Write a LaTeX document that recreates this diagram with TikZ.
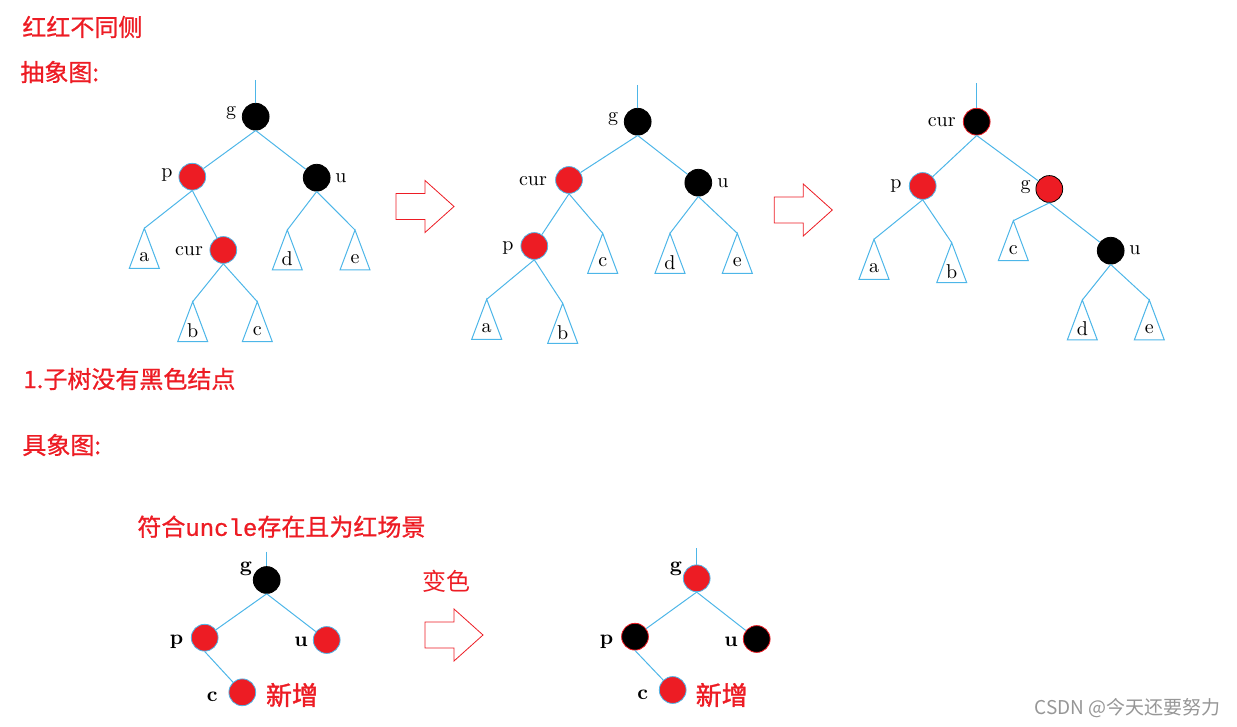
\documentclass[tikz,border=0pt]{standalone}
\usepackage{fontspec}
\usetikzlibrary{calc}
\newfontfamily\cjk{Noto Sans CJK SC}
\newfontfamily\cjkmed[FakeBold=0.8]{Noto Sans CJK SC}
\newfontfamily\cjkbold[FakeBold=1.5]{Noto Sans CJK SC}
\newfontfamily\monofont[FakeBold=0.8]{Liberation Mono}
\definecolor{linkblue}{RGB}{77,182,232}
\definecolor{nodered}{RGB}{237,28,36}
\definecolor{markgray}{RGB}{150,150,150}
\tikzset{
  rbnode/.style={circle,minimum size=13.4pt,inner sep=0pt,line width=0.4pt},
  rednode/.style={rbnode,fill=nodered,draw=linkblue},
  blacknode/.style={rbnode,fill=black,draw=black},
  link/.style={draw=linkblue,line width=0.5pt},
  keylabel/.style={inner sep=0.5pt,font=\fontsize{10}{12}\selectfont},
  boldlabel/.style={inner sep=0.5pt,font=\fontsize{10.5}{12}\selectfont\bfseries},
  redtitle/.style={anchor=west,inner sep=0pt,text=nodered,font=\fontsize{12}{14}\selectfont\cjkmed},
  hollowarrow/.style={draw=nodered,line width=0.4pt,fill=white},
}
% subtree triangle hanging from an apex
\newcommand{\subtree}[3]{%
  \coordinate (#1) at #2;
  \draw[link] (#1) -- ++(-15,40) -- ++(30,0) -- cycle;
  \node[keylabel] (#1lab) at ($(#1)+(0,29)$) {#3};
}
% hollow block arrow, argument is its left middle point
\newcommand{\bigarrow}[1]{%
  \draw[hollowarrow] #1 ++(0,-13) -- ++(29,0) -- ++(0,-13) -- ++(29,26) -- ++(-29,26) -- ++(0,-13) -- ++(-29,0) -- cycle;
}
\begin{document}
\begin{tikzpicture}[x=0.5pt,y=0.5pt,yscale=-1,xscale=1]
\useasboundingbox (0,0) rectangle (1237,727);

% Text Node
\node[redtitle] (title) at (22,27) {红红不同侧};
% Text Node
\node[redtitle] (abstract) at (20,72) {抽象图:};

%%% tree 1
\node[blacknode] (g1) at (255.7,116.7) {};
\node[rednode] (p1) at (192.3,176.7) {};
\node[blacknode] (u1) at (316.7,177.7) {};
\node[rednode] (cur1) at (223.3,250) {};
\coordinate (top1) at (255.7,80);
\subtree{a1}{(144.3,228.3)}{a}
\subtree{b1}{(192.7,301.7)}{b}
\subtree{c1}{(257.3,301.7)}{c}
\subtree{d1}{(287.3,230)}{d}
\subtree{e1}{(355,230)}{e}
\draw[link] (top1) -- (g1);
\draw[link] (g1.south) -- (p1);
\draw[link] (g1.south) -- (u1);
\draw[link] (p1.south) -- (a1);
\draw[link] (p1.south) -- (cur1);
\draw[link] (cur1.south) -- (b1);
\draw[link] (cur1.south) -- (c1);
\draw[link] (u1.south) -- (d1);
\draw[link] (u1.south) -- (e1);
% Text Node
\node[keylabel] (g1lab) at (231,113) {g};
\node[keylabel] (p1lab) at (167,175) {p};
\node[keylabel] (u1lab) at (341,178) {u};
\node[keylabel] (cur1lab) at (189,251) {cur};

%Shape: Right Arrow
\bigarrow{(396,206.5)}

%%% tree 2
\node[blacknode] (g2) at (637.7,121.7) {};
\node[rednode] (cur2) at (569,180) {};
\node[blacknode] (u2) at (698.3,182.7) {};
\node[rednode] (p2) at (534.3,246) {};
\coordinate (top2) at (637.7,85);
\subtree{a2}{(486.7,299.3)}{a}
\subtree{b2}{(562.7,303.3)}{b}
\subtree{c2}{(602.7,233.3)}{c}
\subtree{d2}{(670,233.3)}{d}
\subtree{e2}{(737.3,233.3)}{e}
\draw[link] (top2) -- (g2);
\draw[link] (g2.south) -- (cur2);
\draw[link] (g2.south) -- (u2);
\draw[link] (cur2.south) -- (p2);
\draw[link] (cur2.south) -- (c2);
\draw[link] (u2.south) -- (d2);
\draw[link] (u2.south) -- (e2);
\draw[link] (p2.south) -- (a2);
\draw[link] (p2.south) -- (b2);
% Text Node
\node[keylabel] (g2lab) at (613,119) {g};
\node[keylabel] (cur2lab) at (533,181) {cur};
\node[keylabel] (u2lab) at (723,183) {u};
\node[keylabel] (p2lab) at (508,247.7) {p};

%Shape: Right Arrow
\bigarrow{(774.3,210)}

%%% tree 3
\node[blacknode,draw=nodered] (cur3) at (976.7,121.7) {};
\node[rednode] (p3) at (922.7,186) {};
\node[rednode,draw=black] (g3) at (1049.3,189) {};
\node[blacknode] (u3) at (1110.7,250.7) {};
\coordinate (top3) at (976.7,83.3);
\subtree{a3}{(874,239.3)}{a}
\subtree{b3}{(951.7,242.7)}{b}
\subtree{c3}{(1013.3,220.7)}{c}
\subtree{d3}{(1082.3,300)}{d}
\subtree{e3}{(1149.3,300)}{e}
\draw[link] (top3) -- (cur3);
\draw[link] (cur3.south) -- (p3);
\draw[link] (cur3.south) -- (g3);
\draw[link] (p3.south) -- (a3);
\draw[link] (p3.south) -- (b3);
\draw[link] (g3.south) -- (c3);
\draw[link] (g3.south) -- (u3);
\draw[link] (u3.south) -- (d3);
\draw[link] (u3.south) -- (e3);
% Text Node
\node[keylabel] (cur3lab) at (941.7,122.3) {cur};
\node[keylabel] (p3lab) at (896,186) {p};
\node[keylabel] (g3lab) at (1025.7,186.7) {g};
\node[keylabel] (u3lab) at (1135,250) {u};

% Text Node
\node[redtitle] (case) at (23,379) {1.子树没有黑色结点};
% Text Node
\node[redtitle] (concrete) at (22,445) {具象图:};
% Text Node
\node[redtitle] (scene) at (137,526.7) {符合{\monofont uncle}存在且为红场景};

%%% concrete tree before
\node[blacknode] (g4) at (266.7,580) {};
\node[rednode] (p4) at (204.7,637.7) {};
\node[rednode] (u4) at (326.7,640) {};
\node[rednode] (c4) at (242.3,692.3) {};
\coordinate (top4) at (266.7,551.7);
\draw[link] (top4) -- (g4);
\draw[link] (g4.south) -- (p4);
\draw[link] (g4.south) -- (u4);
\draw[link] (p4.south) -- (c4);
% Text Node
\node[boldlabel] (g4lab) at (246,569.3) {g};
\node[boldlabel] (p4lab) at (176.7,641.7) {p};
\node[boldlabel] (u4lab) at (301,641.7) {u};
\node[boldlabel] (c4lab) at (212.3,697.3) {c};
\node[inner sep=0pt,text=nodered,font=\fontsize{13}{15}\selectfont\cjkbold] (new4) at (292,695) {新增};

% Text Node
\node[inner sep=0pt,text=nodered,font=\fontsize{12}{14}\selectfont\cjk] (recolor) at (446.7,581.7) {变色};
%Shape: Right Arrow
\bigarrow{(425,635)}

%%% concrete tree after
\node[rednode] (g5) at (696.7,578.3) {};
\node[blacknode,draw=nodered] (p5) at (635,636.7) {};
\node[blacknode,draw=nodered] (u5) at (756.7,639) {};
\node[rednode] (c5) at (672.7,690) {};
\coordinate (top5) at (696.7,548.3);
\draw[link] (top5) -- (g5);
\draw[link] (g5.south) -- (p5);
\draw[link] (g5.south) -- (u5);
\draw[link] (p5.south) -- (c5);
% Text Node
\node[boldlabel] (g5lab) at (676,569.3) {g};
\node[boldlabel] (p5lab) at (606.7,641.7) {p};
\node[boldlabel] (u5lab) at (731,641.7) {u};
\node[boldlabel] (c5lab) at (642.7,695) {c};
\node[inner sep=0pt,text=nodered,font=\fontsize{13}{15}\selectfont\cjkbold] (new5) at (721.7,695) {新增};

% Text Node
\node[inner sep=0pt,text=markgray,font=\fontsize{9.5}{11}\selectfont\cjk] (mark) at (1127.5,708) {CSDN @今天还要努力};

\end{tikzpicture}
\end{document}
